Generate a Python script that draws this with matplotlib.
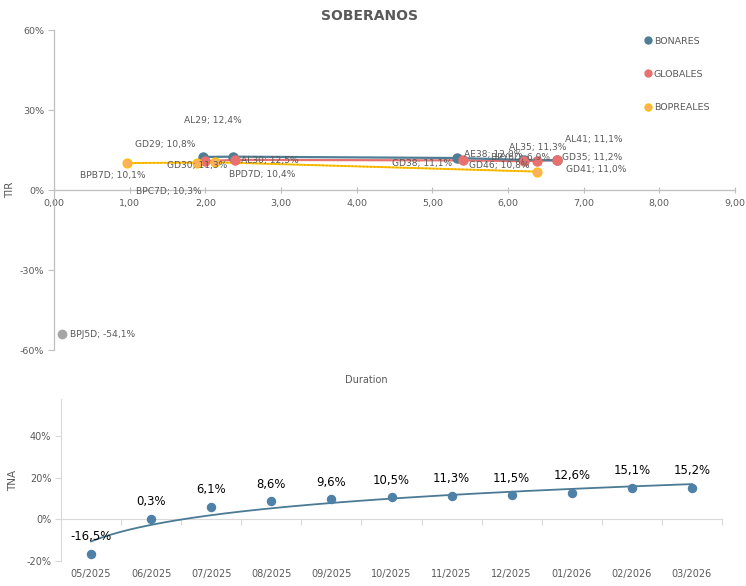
import numpy as np
import matplotlib
matplotlib.use('Agg')
import matplotlib.pyplot as plt
from matplotlib.lines import Line2D
from matplotlib.ticker import FuncFormatter

# --- top chart data (duration, TIR) ---
bonares_names = ['AL29', 'AL30', 'AE38', 'AL35', 'AL41']
bonares_dur = [1.97, 2.37, 5.32, 6.21, 6.65]
bonares_tir = [0.124, 0.125, 0.120, 0.113, 0.111]

globales_names = ['GD29', 'GD30', 'GD38', 'GD46', 'GD41', 'GD35']
globales_dur = [1.99, 2.39, 5.40, 6.21, 6.38, 6.65]
globales_tir = [0.108, 0.113, 0.111, 0.108, 0.110, 0.112]

bopreales_names = ['BPB7D', 'BPC7D', 'BPD7D', 'BPY6D']
bopreales_dur = [0.97, 1.89, 2.13, 6.38]
bopreales_tir = [0.101, 0.103, 0.104, 0.069]

bpj_name = 'BPJ5D'
bpj_dur = 0.10
bpj_tir = -0.541

# --- bottom chart data ---
months = ['05/2025', '06/2025', '07/2025', '08/2025', '09/2025', '10/2025',
          '11/2025', '12/2025', '01/2026', '02/2026', '03/2026']
tna = [-0.165, 0.003, 0.061, 0.086, 0.096, 0.105, 0.113, 0.115, 0.126, 0.151, 0.152]

# label offsets in pixels (dx, dy, ha)
label_pos = {
    'AL29': (10, 36, 'center'), 'AL30': (8, -4, 'left'), 'AE38': (7, 4, 'left'),
    'AL35': (14, 12, 'center'), 'AL41': (8, 21, 'left'),
    'GD29': (-39, 17, 'center'), 'GD30': (-38, -6, 'center'), 'GD38': (-41, -3, 'center'),
    'GD46': (-25, -4, 'center'), 'GD41': (29, -9, 'left'), 'GD35': (5, 3, 'left'),
    'BPB7D': (-15, -12, 'center'), 'BPC7D': (-28, -29, 'center'),
    'BPD7D': (47, -12, 'center'), 'BPY6D': (-16, 14, 'center'), 'BPJ5D': (8, 0, 'left'),
}

GREY_TXT = '#595959'
AXIS_C = '#BFBFBF'
C_BON = '#4F7D96'
C_GLO = '#E8716F'
C_BOP_M = '#FFB05C'
C_BOP_L = '#FFC000'
C_GRAY = '#A5A5A5'

plt.rcParams['font.family'] = ['DejaVu Sans']

fig = plt.figure(figsize=(7.46, 5.86), dpi=100)
W, H = 746, 586

ax = fig.add_axes([54 / W, 1 - 350 / H, 681 / W, 320 / H])
ax.set_xlim(0, 9)
ax.set_ylim(-0.6, 0.6)

def pct(v, _):
    return f'{v * 100:.0f}%'

ax.plot(globales_dur, globales_tir, '-', color=C_GLO, lw=1.6, zorder=2)
ax.plot(bonares_dur, bonares_tir, '-', color=C_BON, lw=1.6, zorder=3)
ax.plot(bopreales_dur, bopreales_tir, '-', color=C_BOP_L, lw=1.4, zorder=2)
ax.plot(bopreales_dur, bopreales_tir, ':', color='#E6A800', lw=1.0, zorder=2)

ax.plot(bonares_dur, bonares_tir, 'o', color=C_BON, ms=6.5, zorder=4)
ax.plot(globales_dur, globales_tir, 'o', color=C_GLO, ms=6.5, zorder=5)
ax.plot(bopreales_dur, bopreales_tir, 'o', color=C_BOP_M, mec=C_BOP_L, mew=0.8, ms=6.5, zorder=5)
ax.plot([bpj_dur], [bpj_tir], 'o', color=C_GRAY, ms=6, zorder=5)

all_pts = (list(zip(bonares_names, bonares_dur, bonares_tir)) +
           list(zip(globales_names, globales_dur, globales_tir)) +
           list(zip(bopreales_names, bopreales_dur, bopreales_tir)) +
           [(bpj_name, bpj_dur, bpj_tir)])
for name, d, t in all_pts:
    dx, dy, ha = label_pos[name]
    txt = f'{name}; {t * 100:.1f}%'.replace('.', ',')
    ax.annotate(txt, (d, t), xytext=(dx * 0.72, dy * 0.72), textcoords='offset points',
                ha=ha, va='center', fontsize=6.6, color=GREY_TXT, zorder=6)

ax.spines['top'].set_visible(False)
ax.spines['right'].set_visible(False)
ax.spines['bottom'].set_position(('data', 0))
for s in ('left', 'bottom'):
    ax.spines[s].set_color(AXIS_C)
    ax.spines[s].set_linewidth(0.9)
ax.set_xticks(np.arange(0, 10, 1))
ax.xaxis.set_major_formatter(FuncFormatter(lambda v, _: f'{v:.2f}'.replace('.', ',')))
ax.set_yticks([-0.6, -0.3, 0, 0.3, 0.6])
ax.yaxis.set_major_formatter(FuncFormatter(pct))
ax.tick_params(axis='x', direction='inout', length=5, color=AXIS_C, labelsize=6.8,
               labelcolor=GREY_TXT, pad=4)
ax.tick_params(axis='y', direction='out', length=4, color=AXIS_C, labelsize=6.8,
               labelcolor=GREY_TXT, pad=3)

handles = [
    Line2D([], [], ls='', marker='o', color=C_BON, ms=5),
    Line2D([], [], ls='', marker='o', color=C_GLO, ms=5),
    Line2D([], [], ls='', marker='o', color=C_BOP_M, mec=C_BOP_L, ms=5),
]
leg = ax.legend(handles, ['BONARES', 'GLOBALES', 'BOPREALES'], loc='upper left',
                bbox_to_anchor=(640 / W, 1 - 32 / H), bbox_transform=fig.transFigure,
                frameon=False, fontsize=6.8, labelspacing=2.55, handlelength=0.6,
                handletextpad=0.35, borderpad=0)
for t in leg.get_texts():
    t.set_color(GREY_TXT)

fig.text(370 / W, 1 - 16 / H, 'SOBERANOS', ha='center', va='center', fontsize=10,
         fontweight='bold', color=GREY_TXT)
fig.text(366 / W, 1 - 380 / H, 'Duration', ha='center', va='center', fontsize=7,
         color=GREY_TXT)
fig.text(10 / W, 1 - 190 / H, 'TIR', ha='center', va='center', rotation=90,
         fontsize=7.5, color=GREY_TXT)

# --- bottom chart ---
bx = fig.add_axes([61 / W, 1 - 561 / H, 661 / W, 162 / H])
xs = np.arange(len(months))
bx.set_xlim(-0.5, len(months) - 0.5)
y0, y1 = -0.2, 0.578
bx.set_ylim(y0, y1)

coef = np.polyfit(np.log(xs + 1), tna, 1)
xt = np.linspace(0, len(months) - 1, 200)
bx.plot(xt, coef[1] + coef[0] * np.log(xt + 1), color='#4A7A94', lw=1.3, zorder=2)
bx.plot(xs, tna, 'o', color='#4F81A8', ms=5.8, zorder=3)
for x, v in zip(xs, tna):
    bx.annotate(f'{v * 100:.1f}%'.replace('.', ','), (x, v), xytext=(0, 12.5),
                textcoords='offset points', ha='center', va='center', fontsize=8.4,
                color='black')

for s in ('top', 'right', 'bottom'):
    bx.spines[s].set_visible(False)
bx.spines['left'].set_color('#D9D9D9')
bx.set_xticks(xs)
bx.set_xticklabels(months)
bx.tick_params(axis='x', length=0, labelsize=7, labelcolor=GREY_TXT, pad=6)
bx.set_yticks([-0.2, 0, 0.2, 0.4])
bx.yaxis.set_major_formatter(FuncFormatter(pct))
bx.tick_params(axis='y', direction='out', length=4, color='#D9D9D9', labelsize=7,
               labelcolor=GREY_TXT, pad=3)
bx.set_ylabel('TNA', fontsize=7.5, color=GREY_TXT, labelpad=6)

sec = bx.secondary_xaxis((0 - y0) / (y1 - y0))
sec.spines['bottom'].set_color('#D9D9D9')
sec.set_xticks(np.arange(-0.5, len(months), 1))
sec.set_xticklabels([])
sec.tick_params(axis='x', direction='out', length=4, color='#D9D9D9')

fig.savefig('out.png', dpi=100)
